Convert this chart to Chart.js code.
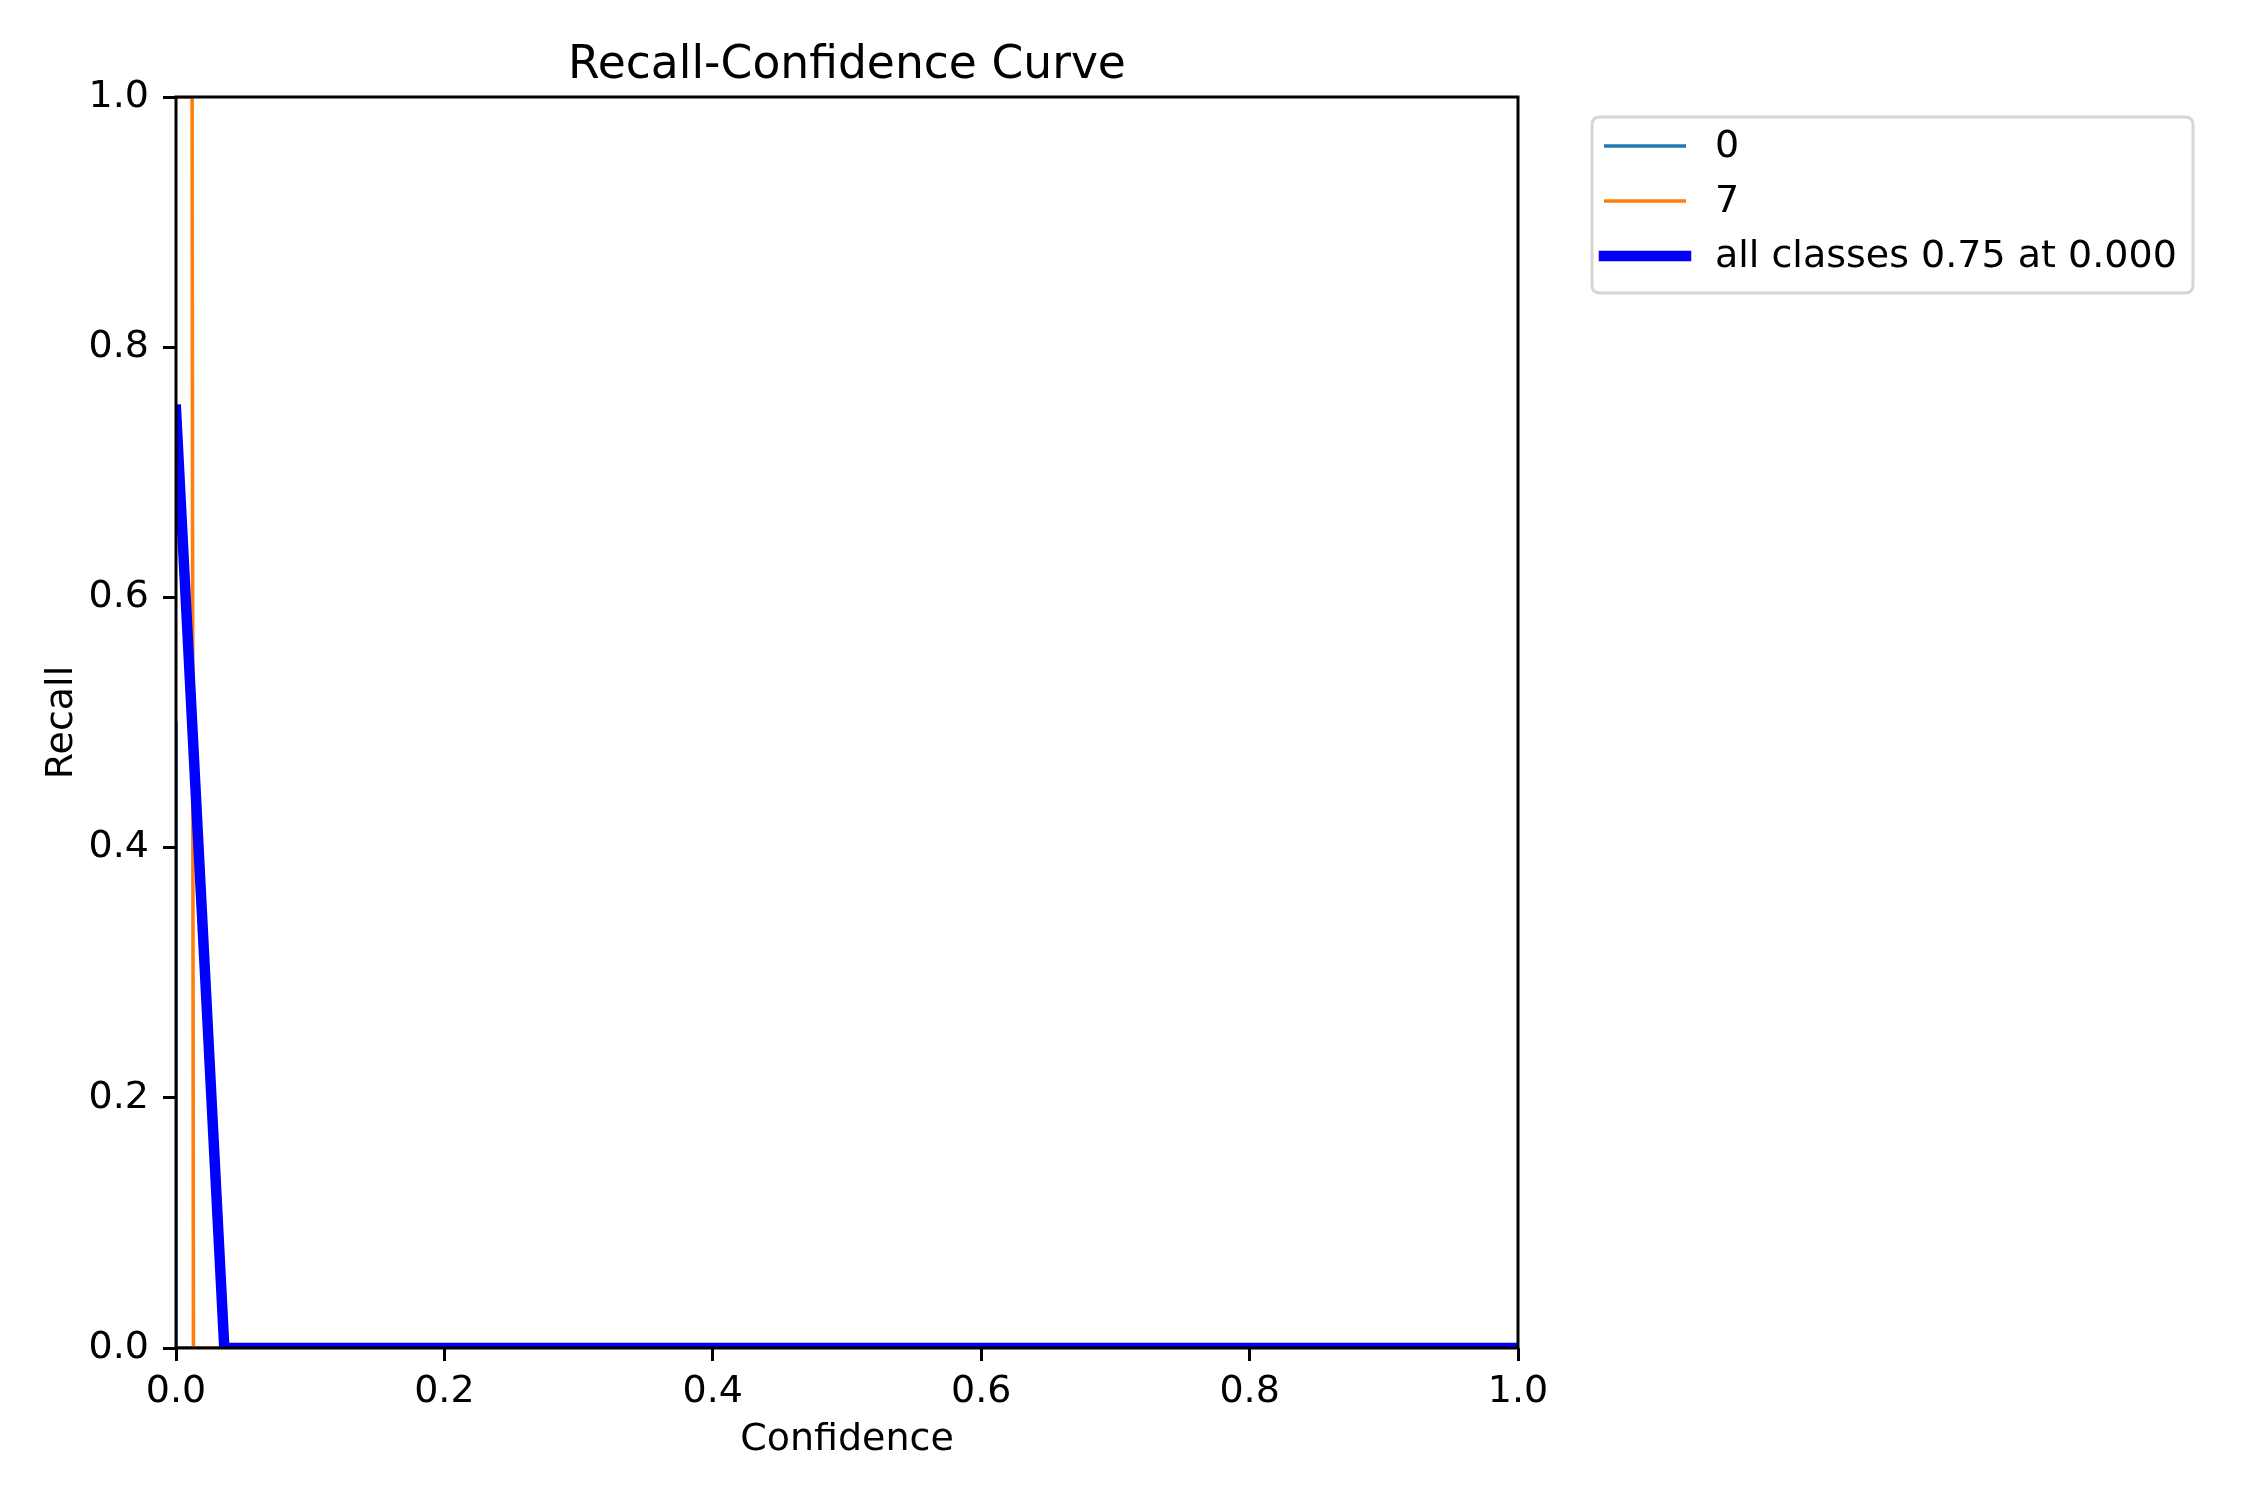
<!DOCTYPE html>
<html>
<head>
<meta charset="utf-8">
<script src="https://cdn.jsdelivr.net/npm/chart.js@4.4.1/dist/chart.umd.min.js"></script>
<style>
  html, body { margin: 0; padding: 0; background: #ffffff; }
  #wrap { width: 2250px; height: 1500px; }
</style>
</head>
<body>
<div id="wrap"><canvas id="c" width="2250" height="1500"></canvas></div>
<script>
// ---- data ----
const chartTitle = "Recall-Confidence Curve";
const xAxisLabel = "Confidence";
const yAxisLabel = "Recall";
const tickValues = [0.0, 0.2, 0.4, 0.6, 0.8, 1.0];

const class0Label = "0";
const class0Conf = [0.0, 0.0, 1.0];
const class0Recall = [0.5, 0.0, 0.0];

const class7Label = "7";
const class7Conf = [0.0, 0.012, 0.013, 1.0];
const class7Recall = [1.0, 1.0, 0.0, 0.0];

const allLabel = "all classes 0.75 at 0.000";
const allConf = [0.0, 0.036, 1.0];
const allRecall = [0.75, 0.0, 0.0];

function toPoints(xs, ys) { return xs.map((x, i) => ({ x: x, y: ys[i] })); }

const FONT = "'DejaVu Sans', sans-serif";
const BASE = 38;

const framePlugin = {
  id: 'frame',
  afterDatasetsDraw(chart) {
    const { ctx, chartArea: a } = chart;
    ctx.save();
    ctx.strokeStyle = '#000000';
    ctx.lineWidth = 3;
    ctx.strokeRect(a.left, a.top, a.right - a.left, a.bottom - a.top);
    ctx.restore();
  },
  afterDraw(chart) {
    const { ctx, chartArea: a } = chart;
    ctx.save();
    // title
    ctx.fillStyle = '#000000';
    ctx.font = '45.6px ' + FONT;
    ctx.textAlign = 'center';
    ctx.textBaseline = 'alphabetic';
    ctx.fillText(chartTitle, (a.left + a.right) / 2, 78);

    // legend
    const bx = 1592, by = 117, bw = 601, bh = 176, r = 8;
    ctx.beginPath();
    ctx.moveTo(bx + r, by);
    ctx.lineTo(bx + bw - r, by);
    ctx.quadraticCurveTo(bx + bw, by, bx + bw, by + r);
    ctx.lineTo(bx + bw, by + bh - r);
    ctx.quadraticCurveTo(bx + bw, by + bh, bx + bw - r, by + bh);
    ctx.lineTo(bx + r, by + bh);
    ctx.quadraticCurveTo(bx, by + bh, bx, by + bh - r);
    ctx.lineTo(bx, by + r);
    ctx.quadraticCurveTo(bx, by, bx + r, by);
    ctx.closePath();
    ctx.fillStyle = 'rgba(255,255,255,0.8)';
    ctx.fill();
    ctx.strokeStyle = '#d6d6d6';
    ctx.lineWidth = 3;
    ctx.stroke();

    const items = chart.data.datasets.slice().sort((p, q) => p.legendRank - q.legendRank);
    const ys = [146, 201, 256];
    ctx.font = BASE + 'px ' + FONT;
    ctx.textAlign = 'left';
    ctx.textBaseline = 'middle';
    items.forEach((ds, i) => {
      ctx.beginPath();
      ctx.moveTo(1604, ys[i]);
      ctx.lineTo(1686, ys[i]);
      ctx.strokeStyle = ds.borderColor;
      ctx.lineWidth = ds.borderWidth;
      ctx.lineCap = 'square';
      if (ds.borderWidth < 5) { ctx.lineCap = 'butt'; }
      ctx.stroke();
      ctx.fillStyle = '#000000';
      ctx.fillText(ds.label, 1715, ys[i] + 1);
    });
    ctx.restore();
  }
};

const ctx = document.getElementById('c').getContext('2d');
new Chart(ctx, {
  type: 'line',
  data: {
    datasets: [
      {
        label: allLabel, data: toPoints(allConf, allRecall),
        borderColor: '#0000ff', borderWidth: 10.5, order: 0, legendRank: 2,
        pointRadius: 0, tension: 0, clip: 0, borderCapStyle: 'square', borderJoinStyle: 'round'
      },
      {
        label: class7Label, data: toPoints(class7Conf, class7Recall),
        borderColor: '#ff7f0e', borderWidth: 3.6, order: 1, legendRank: 1,
        pointRadius: 0, tension: 0, clip: 0, borderJoinStyle: 'round'
      },
      {
        label: class0Label, data: toPoints(class0Conf, class0Recall),
        borderColor: '#1f77b4', borderWidth: 3.6, order: 2, legendRank: 0,
        pointRadius: 0, tension: 0, clip: 0, borderJoinStyle: 'round'
      }
    ]
  },
  options: {
    responsive: false,
    animation: false,
    devicePixelRatio: 1,
    layout: { padding: { left: 0, top: 97, right: 732, bottom: 0 } },
    plugins: {
      legend: { display: false },
      title: { display: false },
      tooltip: { enabled: false }
    },
    scales: {
      x: {
        type: 'linear', min: 0, max: 1,
        afterFit(s) { s.height = 152; },
        afterBuildTicks(s) { s.ticks = tickValues.map(v => ({ value: v })); },
        ticks: {
          callback: v => Number(v).toFixed(1),
          color: '#000000', font: { family: FONT, size: BASE }, padding: 8, maxRotation: 0, autoSkip: false
        },
        grid: { drawOnChartArea: false, drawTicks: true, tickLength: 13, tickWidth: 3, tickColor: '#000000', lineWidth: 3 },
        border: { display: false },
        title: { display: true, text: xAxisLabel, color: '#000000', font: { family: FONT, size: BASE }, padding: { top: 0, bottom: 37 } }
      },
      y: {
        type: 'linear', min: 0, max: 1,
        afterFit(s) { s.width = 176; },
        afterBuildTicks(s) { s.ticks = tickValues.map(v => ({ value: v })); },
        ticks: {
          callback: v => Number(v).toFixed(1),
          color: '#000000', font: { family: FONT, size: BASE }, padding: 14, autoSkip: false
        },
        grid: { drawOnChartArea: false, drawTicks: true, tickLength: 13, tickWidth: 3, tickColor: '#000000', lineWidth: 3 },
        border: { display: false },
        title: { display: true, text: yAxisLabel, color: '#000000', font: { family: FONT, size: BASE }, padding: { top: 39, bottom: 0 } }
      }
    }
  },
  plugins: [framePlugin]
});
</script>
</body>
</html>
